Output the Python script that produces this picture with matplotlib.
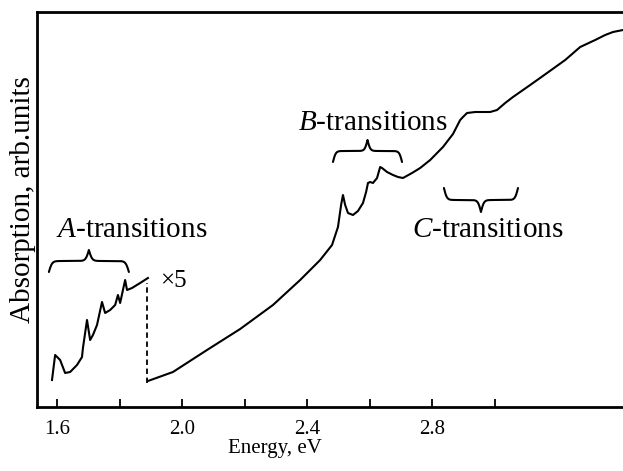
import matplotlib
matplotlib.use('Agg')
import matplotlib.pyplot as plt
import numpy as np

plt.rcParams['font.family'] = 'Liberation Serif'
plt.rcParams['mathtext.fontset'] = 'custom'
plt.rcParams['mathtext.rm'] = 'Liberation Serif'
plt.rcParams['mathtext.it'] = 'Liberation Serif:italic'

# A-transitions region (scaled x5)
energia_a = [1.584, 1.594, 1.610, 1.626, 1.642, 1.664, 1.680, 1.683, 1.696, 1.706,
             1.715, 1.728, 1.744, 1.754, 1.770, 1.786, 1.795, 1.802, 1.818, 1.824,
             1.840, 1.866, 1.891]
absorcao_a = [0.27, 0.52, 0.47, 0.34, 0.35, 0.42, 0.50, 0.59, 0.87, 0.67,
              0.72, 0.82, 1.05, 0.94, 0.97, 1.02, 1.12, 1.04, 1.27, 1.17,
              1.19, 1.24, 1.29]

# main spectrum
energia = [1.891, 1.971, 2.080, 2.186, 2.291, 2.378, 2.442, 2.480, 2.499, 2.509,
           2.515, 2.522, 2.531, 2.547, 2.563, 2.579, 2.589, 2.595, 2.602, 2.611,
           2.624, 2.634, 2.640, 2.656, 2.675, 2.691, 2.707, 2.736, 2.762, 2.794,
           2.835, 2.867, 2.890, 2.899, 2.912, 2.938, 2.986, 3.008, 3.034, 3.059,
           3.114, 3.168, 3.226, 3.274, 3.322, 3.354, 3.379, 3.411]
absorcao = [0.26, 0.35, 0.57, 0.78, 1.02, 1.27, 1.47, 1.62, 1.80, 2.02,
            2.12, 2.02, 1.94, 1.92, 1.96, 2.04, 2.15, 2.24, 2.25, 2.24,
            2.29, 2.40, 2.39, 2.35, 2.32, 2.30, 2.29, 2.34, 2.39, 2.47,
            2.60, 2.73, 2.87, 2.90, 2.94, 2.95, 2.95, 2.97, 3.04, 3.10,
            3.22, 3.34, 3.47, 3.60, 3.67, 3.72, 3.75, 3.77]

ticks_maiores = [1.6, 2.0, 2.4, 2.8]
ticks_menores = [1.8, 2.2, 2.6, 3.0]


def chave(ax, x0, x1, y_ponta, y_fim, beta=25):
    # curly brace between x0 and x1, tip at y_ponta, ends at y_fim
    u = np.linspace(0, 1, 200)
    meia = 1 / (1 + np.exp(-beta * u)) + 1 / (1 + np.exp(-beta * (u - 1))) - 0.5
    meia = meia / meia[-1]
    forma = np.concatenate([meia, meia[::-1][1:]])
    xs = np.linspace(x0, x1, len(forma))
    ys = y_fim + forma * (y_ponta - y_fim)
    ax.plot(xs, ys, color='black', lw=1.5, solid_capstyle='round')


fig = plt.figure(figsize=(6.23, 4.71), dpi=100)
ax = fig.add_axes([37 / 623, 64 / 471, 586 / 623, 395 / 471])

ax.plot(energia_a, absorcao_a, color='black', lw=1.5)
ax.plot(energia, absorcao, color='black', lw=1.5)
ax.vlines(1.888, 0.24, 1.24, colors='black', linestyles=(0, (3, 2)), lw=1.3)

chave(ax, 1.574, 1.830, 1.57, 1.35)
chave(ax, 2.483, 2.704, 2.67, 2.45)
chave(ax, 2.838, 3.075, 1.95, 2.19)

ax.text(1.840, 1.70, '$A$-transitions', fontsize=21, ha='center', va='baseline')
ax.text(2.611, 2.77, '$B$-transitions', fontsize=21, ha='center', va='baseline')
ax.text(2.979, 1.70, '$C$-transitions', fontsize=21, ha='center', va='baseline')
ax.text(1.930, 1.20, '×5', fontsize=18, ha='left', va='baseline')

ax.set_xlim(1.536, 3.411)
ax.set_ylim(0, 3.95)
ax.set_xticks(ticks_maiores)
ax.set_xticks(ticks_menores, minor=True)
ax.set_yticks([])
ax.tick_params(axis='x', which='both', direction='in', length=6, width=1.3,
               labelsize=15, pad=9)
for lado in ['left', 'bottom', 'top']:
    ax.spines[lado].set_linewidth(2)
ax.spines['right'].set_visible(False)

ax.set_xlabel('Energy, eV', fontsize=15)
ax.xaxis.set_label_coords(0.406, -0.08)
ax.set_ylabel('Absorption, arb.units', fontsize=21)
ax.yaxis.set_label_coords(-0.001, 0.524)

plt.savefig('out.png', dpi=100)
